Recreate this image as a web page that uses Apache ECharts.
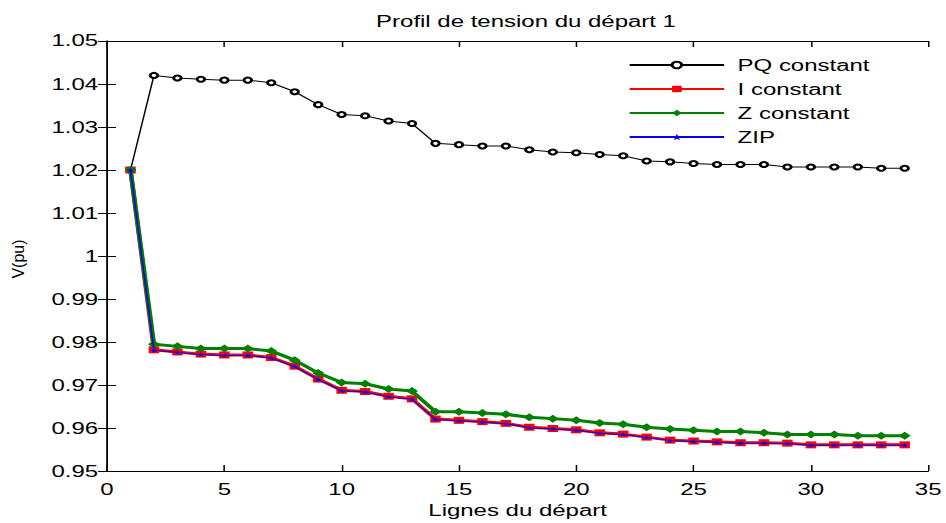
<!DOCTYPE html>
<html>
<head>
<meta charset="utf-8">
<script src="https://cdn.jsdelivr.net/npm/echarts@6/dist/echarts.min.js"></script>
<style>
html,body{margin:0;padding:0;background:#fff;overflow:hidden;}
#wrap{width:946px;height:523px;overflow:hidden;}
/* the reference figure is a horizontally stretched (x1.5) rendering */
#chart{width:631px;height:523px;transform:scaleX(1.49921);transform-origin:0 0;}
</style>
</head>
<body>
<div id="wrap"><div id="chart"></div></div>
<script>
// Data
var lignes = [1,2,3,4,5,6,7,8,9,10,11,12,13,14,15,16,17,18,19,20,21,22,23,24,25,26,27,28,29,30,31,32,33,34];
var pqConstant = [1.0200,1.0420,1.0414,1.0411,1.0409,1.0409,1.0403,1.0382,1.0352,1.0329,1.0326,1.0314,1.0308,1.0262,1.0259,1.0256,1.0256,1.0247,1.0242,1.0240,1.0236,1.0233,1.0221,1.0219,1.0215,1.0213,1.0213,1.0213,1.0207,1.0207,1.0207,1.0207,1.0204,1.0204];
var iConstant = [1.0200,0.9782,0.9777,0.9772,0.9770,0.9770,0.9764,0.9744,0.9714,0.9688,0.9685,0.9674,0.9668,0.9621,0.9618,0.9615,0.9611,0.9602,0.9599,0.9596,0.9589,0.9586,0.9579,0.9572,0.9570,0.9568,0.9566,0.9566,0.9565,0.9561,0.9561,0.9561,0.9561,0.9561];
var zConstant = [1.0200,0.9795,0.9790,0.9785,0.9785,0.9785,0.9779,0.9758,0.9728,0.9706,0.9703,0.9691,0.9686,0.9638,0.9638,0.9635,0.9632,0.9625,0.9622,0.9618,0.9612,0.9609,0.9602,0.9598,0.9595,0.9592,0.9592,0.9589,0.9585,0.9585,0.9585,0.9582,0.9582,0.9582];
var zip = [1.0200,0.9781,0.9776,0.9771,0.9769,0.9769,0.9763,0.9743,0.9713,0.9687,0.9684,0.9673,0.9667,0.9620,0.9617,0.9614,0.9610,0.9601,0.9598,0.9595,0.9588,0.9585,0.9578,0.9571,0.9569,0.9567,0.9565,0.9565,0.9564,0.9560,0.9560,0.9560,0.9560,0.9560];
var seriesNames = ['PQ constant','I constant','Z constant','ZIP'];
var titleText = 'Profil de tension du départ 1';
var xName = 'Lignes du départ';
var yName = 'V(pu)';

function pairs(vals){ return lignes.map(function(x,i){ return [x, vals[i]]; }); }

var FONT = 'Liberation Sans';
var SX = 1.49921;
var starPath = 'path://M0,-10 L2.4,-3.2 L9.5,-3.1 L3.8,1.2 L5.9,8.1 L0,4 L-5.9,8.1 L-3.8,1.2 L-9.5,-3.1 L-2.4,-3.2 Z';
var gridLeft = 71.4, gridRight = 10.7;

var chart = echarts.init(document.getElementById('chart'), null, {renderer:'svg'});
var axisCommon = {
  axisLine:{show:true, lineStyle:{color:'#000', width:1}},
  axisTick:{show:true, inside:true, length:6, lineStyle:{color:'#000'}},
  splitLine:{show:false}
};
chart.setOption({
  animation:false,
  backgroundColor:'#fff',
  title:{text:titleText, left:(gridLeft + (631 - gridRight)) / 2, textAlign:'center', top:8,
    textStyle:{fontFamily:FONT, fontSize:16, fontWeight:'normal', color:'#000'}},
  grid:{left:gridLeft, right:gridRight, top:41, bottom:46, containLabel:false},
  legend:{
    orient:'vertical', left:414, top:52,
    itemWidth:63, itemHeight:8, itemGap:8,
    textStyle:{fontFamily:FONT, fontSize:16, color:'#000', padding:[0,0,0,4]},
    data:seriesNames
  },
  graphic:[{
    type:'text', x:12.2, y:259, rotation:Math.PI/2, scaleY:1/SX,
    style:{text:yName, fontFamily:FONT, fontSize:16, fill:'#000', align:'center', verticalAlign:'middle'}
  }],
  xAxis:[
    Object.assign({type:'value', min:0, max:35, interval:5, position:'bottom',
      name:xName, nameLocation:'middle', nameGap:27,
      nameTextStyle:{fontFamily:FONT, fontSize:16, color:'#000'},
      axisLabel:{fontFamily:FONT, fontSize:16, color:'#000', margin:10}}, axisCommon),
    Object.assign({type:'value', min:0, max:35, interval:5, position:'top', axisLabel:{show:false}}, axisCommon)
  ],
  yAxis:[
    Object.assign({type:'value', min:0.95, max:1.05, interval:0.01, position:'left',
      axisLabel:{fontFamily:FONT, fontSize:16, color:'#000', margin:6,
        formatter:function(v){ return String(+v.toFixed(2)); }}}, axisCommon),
    Object.assign({type:'value', min:0.95, max:1.05, interval:0.01, position:'right', axisLabel:{show:false}}, axisCommon)
  ],
  series:[
    {name:seriesNames[0], type:'line', data:pairs(pqConstant), symbol:'emptyCircle', symbolSize:5,
      lineStyle:{color:'#000', width:1}, itemStyle:{color:'#000', borderColor:'#000', borderWidth:1}, z:2},
    {name:seriesNames[1], type:'line', data:pairs(iConstant), symbol:'rect', symbolSize:7,
      lineStyle:{color:'#ff0000', width:3}, itemStyle:{color:'#ff0000'}, z:3},
    {name:seriesNames[2], type:'line', data:pairs(zConstant), symbol:'diamond', symbolSize:8,
      lineStyle:{color:'#008000', width:3}, itemStyle:{color:'#008000'}, z:4},
    {name:seriesNames[3], type:'line', data:pairs(zip), symbol:starPath, symbolSize:5,
      lineStyle:{color:'#0000ff', width:1}, itemStyle:{color:'#0000ff'}, z:5}
  ]
});
</script>
</body>
</html>
